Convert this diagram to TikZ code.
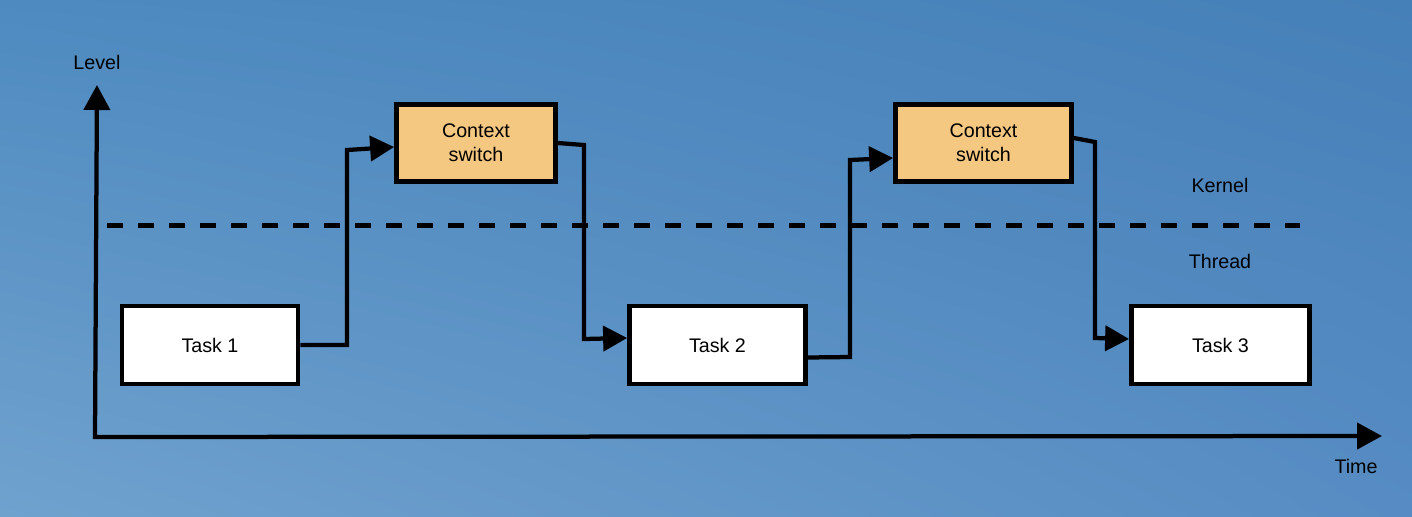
\documentclass[tikz,border=0pt]{standalone}
\usepackage{fontspec}
\setmainfont{Liberation Sans}
\usetikzlibrary{arrows.meta,shadings}

\tikzset{
  taskbox/.style={shape=rectangle,draw,line width=0.095cm,fill=white,minimum width=3.52cm,minimum height=1.56cm,font=\fontsize{11.2}{13.6}\selectfont},
  switchbox/.style={taskbox,fill=cswitch_bg,minimum height=1.54cm,align=center},
  flow/.style={line width=0.085cm,-{Triangle[length=0.48cm,width=0.5cm]}},
  axisline/.style={line width=0.085cm,{Triangle[length=0.5cm,width=0.52cm]}-{Triangle[length=0.5cm,width=0.52cm]}},
  lbl/.style={font=\fontsize{11.2}{13.6}\selectfont}
}

\begin{document}
\begin{tikzpicture}
\definecolor{cswitch_bg}{RGB}{245,200,130}
\definecolor{bg_ul}{RGB}{78,138,192}
\definecolor{bg_ur}{RGB}{70,128,184}
\definecolor{bg_ll}{RGB}{112,162,206}
\definecolor{bg_lr}{RGB}{86,140,195}
\shade[upper left=bg_ul,upper right=bg_ur,lower left=bg_ll,lower right=bg_lr] (0,0) rectangle (28.24,10.32);
\useasboundingbox (0,0) rectangle (28.24,10.32);

% axes
\draw[axisline] (27.64,1.6) -- (1.9,1.58) -- (1.94,8.62);
\node[lbl] (level) at (1.94,9.08) {Level};
\node[lbl] (time) at (27.12,1.0) {Time};

% kernel / thread boundary
\draw[dashed,dash pattern=on 0.32cm off 0.3cm,line width=0.1cm] (2.14,5.82) to (26.0,5.82);
\node[lbl] (kernel) at (24.4,6.62) {Kernel};
\node[lbl] (thread) at (24.4,5.1) {Thread};

% tasks and switches
\node[taskbox] (task1) at (4.2,3.42) {Task 1};
\node[switchbox,minimum width=3.18cm] (cs1) at (9.52,7.46) {Context\\switch};
\node[taskbox] (task2) at (14.35,3.42) {Task 2};
\node[switchbox] (cs2) at (19.67,7.46) {Context\\switch};
\node[taskbox,minimum width=3.56cm] (task3) at (24.41,3.42) {Task 3};

\draw[flow] (task1.east) -- (6.94,3.42) -- (6.94,7.32) -- ([yshift=-0.08cm]cs1.west);
\draw[flow] (cs1.east) -- (11.68,7.42) -- (11.68,3.54) -- ([yshift=0.14cm]task2.west);
\draw[flow] ([yshift=-0.25cm]task2.east) -- (17.0,3.18) -- (17.0,7.12) -- ([yshift=-0.3cm]cs2.west);
\draw[flow] ([yshift=0.1cm]cs2.east) -- (21.9,7.48) -- (21.9,3.56) -- ([yshift=0.12cm]task3.west);
\end{tikzpicture}
\end{document}
